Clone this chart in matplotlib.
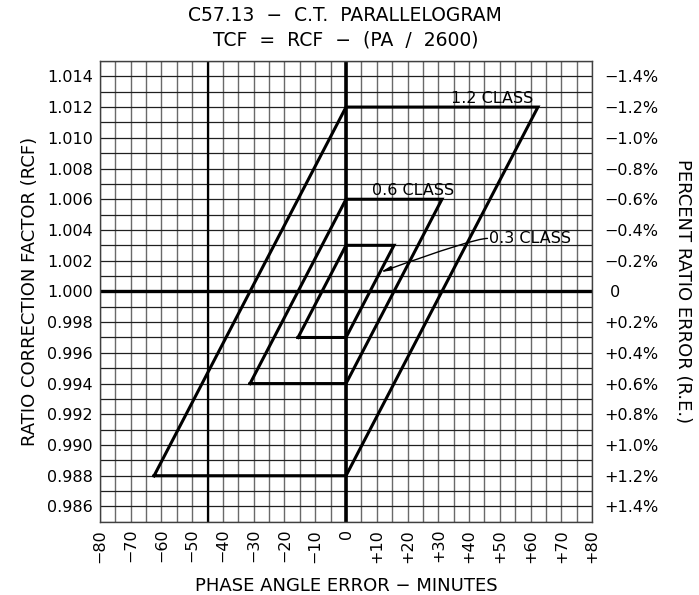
import numpy as np
import matplotlib
matplotlib.use("Agg")
from matplotlib import pyplot as plt

# Chart data
class_names = ["1.2 CLASS", "0.6 CLASS", "0.3 CLASS"]
rcf_limit = [0.012, 0.006, 0.003]          # +/- limit on RCF (and TCF)
pa_limit = [62.4, 31.2, 15.6]              # phase angle (minutes) where TCF limit meets RCF limit

x_ticks = [-80, -70, -60, -50, -40, -30, -20, -10, 0, 10, 20, 30, 40, 50, 60, 70, 80]
x_tick_labels = ["\u221280", "\u221270", "\u221260", "\u221250", "\u221240", "\u221230",
                 "\u221220", "\u221210", "0", "+10", "+20", "+30", "+40", "+50",
                 "+60", "+70", "+80"]
rcf_ticks = [0.986, 0.988, 0.990, 0.992, 0.994, 0.996, 0.998, 1.000,
             1.002, 1.004, 1.006, 1.008, 1.010, 1.012, 1.014]
re_labels = ["+1.4%", "+1.2%", "+1.0%", "+0.8%", "+0.6%", "+0.4%", "+0.2%", " 0",
             "\u22120.2%", "\u22120.4%", "\u22120.6%", "\u22120.8%", "\u22121.0%",
             "\u22121.2%", "\u22121.4%"]

plt.rcParams['font.family'] = ['DejaVu Sans']

fig = plt.figure(figsize=(6.99, 5.95), dpi=100)
ax = fig.add_axes([0.143, 0.123, 0.704, 0.7745])

ax.set_xlim(-80, 80)
ax.set_ylim(0.985, 1.015)

# grid: every 5 minutes and every 0.001 of RCF
for gx in np.arange(-80, 81, 5):
    ax.axvline(gx, color='#6a6a6a', lw=1.0, zorder=1)
for gy in np.arange(0.985, 1.0151, 0.001):
    ax.axhline(gy, color='#202020', lw=0.9, zorder=1)

# heavy reference lines
ax.axvline(0, color='black', lw=2.6, zorder=2)
ax.axhline(1.0, color='black', lw=2.4, zorder=2)
ax.axvline(-45, color='black', lw=1.6, zorder=2)

# parallelograms
for name, lim, pa in zip(class_names, rcf_limit, pa_limit):
    xs = [-pa, 0, pa, 0, -pa]
    ys = [1 - lim, 1 + lim, 1 + lim, 1 - lim, 1 - lim]
    ax.plot(xs, ys, color='black', lw=2.2, solid_joinstyle='miter', zorder=3)

# class labels
ax.text(61, 1.0121, class_names[0], ha='right', va='bottom', fontsize=11.5, zorder=4)
ax.text(8.5, 1.0061, class_names[1], ha='left', va='bottom', fontsize=11.5, zorder=4)
ax.text(46.5, 1.00345, class_names[2], ha='left', va='center', fontsize=11.5, zorder=4)
ax.annotate("", xy=(11.2, 1.00125), xytext=(46, 1.00345),
            arrowprops=dict(arrowstyle='-|>,head_length=0.6,head_width=0.12',
                            color='black', lw=1.0,
                            connectionstyle='angle3,angleA=180,angleB=20',
                            shrinkA=0, shrinkB=0),
            zorder=4)

ax.set_xticks(x_ticks)
ax.set_xticklabels(x_tick_labels, rotation=90, fontsize=11.5)
ax.set_yticks(rcf_ticks)
ax.set_yticklabels(["%.3f" % v for v in rcf_ticks], fontsize=11.5)
ax.tick_params(length=0, pad=5)
for s in ax.spines.values():
    s.set_linewidth(1.0)
    s.set_color('#404040')

ax2 = ax.twinx()
ax2.set_ylim(ax.get_ylim())
ax2.set_yticks(rcf_ticks)
ax2.set_yticklabels(re_labels, fontsize=11.5)
ax2.tick_params(length=0, pad=9)
for s in ax2.spines.values():
    s.set_visible(False)

ax.set_ylabel("RATIO CORRECTION FACTOR (RCF)", fontsize=13, labelpad=6)
ax2.set_ylabel("PERCENT RATIO ERROR (R.E.)", fontsize=13, rotation=-90,
               labelpad=24)
ax.set_xlabel("PHASE ANGLE ERROR \u2212 MINUTES", fontsize=13, labelpad=10)

fig.text(0.494, 0.974, "C57.13  \u2212  C.T.  PARALLELOGRAM", ha='center', va='center',
         fontsize=13.5)
fig.text(0.494, 0.932, "TCF  =  RCF  \u2212  (PA  /  2600)", ha='center', va='center',
         fontsize=13.5)

plt.savefig("out.png", dpi=100)
